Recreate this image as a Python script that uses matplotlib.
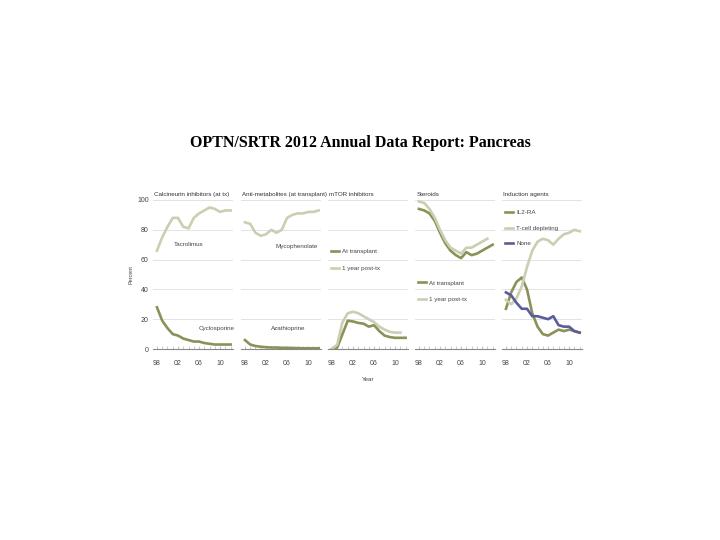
import matplotlib
matplotlib.use("Agg")
import matplotlib.pyplot as plt
import numpy as np

plt.rcParams['font.family'] = ['Liberation Sans', 'DejaVu Sans']

years = np.arange(1998, 2013)
years_1yr = np.arange(1998, 2012)

tacrolimus = [66, 75, 82, 88, 88, 82, 81, 88, 91, 93, 95, 94, 92, 93, 93]
cyclosporine = [28, 19, 14, 10, 9, 7, 6, 5, 5, 4, 3.5, 3, 3, 3, 3]
mycophenolate = [85, 84, 78, 76, 77, 80, 78, 80, 88, 90, 91, 91, 92, 92, 93]
azathioprine = [6, 3, 2, 1.5, 1.2, 1, 1, 0.8, 0.8, 0.7, 0.6, 0.5, 0.5, 0.5, 0.5]
mtor_tx = [0, 1, 10, 19, 18.5, 17.5, 17, 15, 16, 12, 9, 8, 7.5, 7.5, 7.5]
mtor_1yr = [0, 3, 18, 24, 25, 24, 22, 20, 18, 15, 13, 11.5, 11, 11]
ster_tx = [94, 93, 91, 86, 78, 71, 66, 63, 61, 65, 63, 64, 66, 68, 70]
ster_1yr = [99, 98, 94, 88, 80, 73, 68, 66, 64, 68, 68, 70, 72, 74]
il2ra = [27, 38, 45, 48, 40, 24, 15, 10, 9, 11, 13, 12, 13, 12, 11]
tcell = [33, 30, 34, 42, 55, 66, 72, 74, 73, 70, 74, 77, 78, 80, 79]
none = [38, 36, 31, 27, 27, 22, 22, 21, 20, 22, 16, 15, 15, 12, 11]

panel_titles = ["Calcineurin inhibitors (at tx)", "Anti-metabolites (at transplant)",
                "mTOR inhibitors", "Steroids", "Induction agents"]
xticks = [1998, 2002, 2006, 2010]
xticklabels = ["98", "02", "06", "10"]

LIGHT = "#cbceb0"
DARK = "#8b9158"
BLUE = "#5b5d9b"
TXT = "#444444"
FS = 4.5

fig = plt.figure(figsize=(7.2, 5.4), dpi=100)
fig.text(0.5, 0.736, "OPTN/SRTR 2012 Annual Data Report: Pancreas", ha="center", va="center",
         family="Liberation Serif", fontsize=11.5, fontweight="bold", color="black")

lefts = [153, 241, 328, 415, 502]
axes = []
for i, L in enumerate(lefts):
    ax = fig.add_axes([L / 720, 1 - 349 / 540, 80 / 720, 149 / 540])
    ax.set_xlim(1997.25, 2012.45)
    ax.set_ylim(0, 100)
    for s in ["top", "right", "left"]:
        ax.spines[s].set_visible(False)
    ax.spines["bottom"].set_color("#888888")
    ax.spines["bottom"].set_linewidth(0.8)
    for g in [20, 40, 60, 80, 100]:
        ax.axhline(g, color="#dedede", lw=0.6, zorder=0)
    ax.set_xticks(xticks)
    ax.set_xticklabels(xticklabels, fontsize=5, color=TXT)
    ax.set_xticks(years, minor=True)
    ax.tick_params(axis="x", which="both", direction="in", length=2.5, color="#c4c4c4", pad=8)
    ax.set_yticks([0, 20, 40, 60, 80, 100])
    if i == 0:
        ax.set_yticklabels(["0", "20", "40", "60", "80", "100"], fontsize=5, color=TXT)
        ax.tick_params(axis="y", length=0, pad=3)
        ax.set_ylabel("Percent", fontsize=4, color=TXT, labelpad=3)
    else:
        ax.set_yticklabels([])
        ax.tick_params(axis="y", length=0)
    ax.text(1997.5, 102, panel_titles[i], fontsize=FS, color="#333333", va="bottom", ha="left")
    axes.append(ax)

lw = 1.9
ax = axes[0]
ax.plot(years, tacrolimus, color=LIGHT, lw=lw)
ax.plot(years, cyclosporine, color=DARK, lw=lw)
ax.text(2001.3, 70, "Tacrolimus", fontsize=FS, color=TXT, va="center")
ax.text(2006.0, 14, "Cyclosporine", fontsize=FS, color=TXT, va="center")

ax = axes[1]
ax.plot(years, mycophenolate, color=LIGHT, lw=lw)
ax.plot(years, azathioprine, color=DARK, lw=lw)
ax.text(2003.8, 69, "Mycophenolate", fontsize=FS, color=TXT, va="center")
ax.text(2003.0, 14, "Azathioprine", fontsize=FS, color=TXT, va="center")

leg_kw = dict(loc="upper left", frameon=False, fontsize=FS, handlelength=1.3,
              handletextpad=0.5, labelcolor=TXT)

ax = axes[2]
ax.plot(years, mtor_tx, color=DARK, lw=lw, label="At transplant")
ax.plot(years_1yr, mtor_1yr, color=LIGHT, lw=lw, label="1 year post-tx")
ax.legend(bbox_to_anchor=(-0.03, 0.71), labelspacing=1.8, **leg_kw)
ax.set_xlabel("Year", fontsize=FS, color=TXT, labelpad=7)

ax = axes[3]
ax.plot(years, ster_tx, color=DARK, lw=lw, label="At transplant")
ax.plot(years_1yr, ster_1yr, color=LIGHT, lw=lw, label="1 year post-tx")
ax.legend(bbox_to_anchor=(-0.03, 0.50), labelspacing=1.8, **leg_kw)

ax = axes[4]
ax.plot(years, il2ra, color=DARK, lw=lw, label="IL2-RA")
ax.plot(years, tcell, color=LIGHT, lw=lw, label="T-cell depleting")
ax.plot(years, none, color=BLUE, lw=lw, label="None")
ax.legend(bbox_to_anchor=(-0.03, 0.97), labelspacing=1.6, **leg_kw)

fig.savefig("out.png", dpi=100)
